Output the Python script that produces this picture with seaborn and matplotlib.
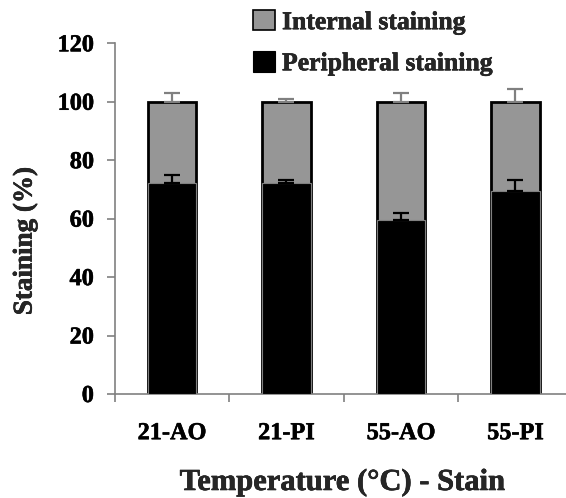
import matplotlib
matplotlib.use("Agg")
import matplotlib.pyplot as plt
import matplotlib.patheffects as pe
from matplotlib.patches import Patch
from matplotlib.font_manager import FontProperties
import numpy as np
import pandas as pd
import seaborn as sns

# Staining localisation per temperature / stain combination (%)
categories = ["21-AO", "21-PI", "55-AO", "55-PI"]
peripheral = [72.3, 72.3, 59.5, 69.5]
internal = [27.7, 27.7, 40.5, 30.5]
peripheral_err = [2.5, 1.0, 2.5, 3.8]
internal_err = [3.0, 1.0, 3.0, 4.3]
y_ticks = [0, 20, 40, 60, 80, 100, 120]

GREY = "#969696"
AXIS_GREY = "#808080"

df = pd.DataFrame({
    "group": categories,
    "peripheral": peripheral,
    "internal": internal,
})
df["total"] = df["peripheral"] + df["internal"]

sns.set_theme(style="white")
plt.rcParams["font.family"] = ["Liberation Serif", "DejaVu Serif"]
plt.rcParams["font.weight"] = "bold"

# slightly heavier strokes for the bold serif text
heavy = [pe.withStroke(linewidth=0.4, foreground="black")]

fig = plt.figure(figsize=(5.66, 4.98), dpi=100)
W, H = 566, 498
ax_left, ax_right, ax_top, ax_bottom = 114.6, 572.7, 43.3, 394.0
ax = fig.add_axes([ax_left / W, 1 - ax_bottom / H,
                   (ax_right - ax_left) / W, (ax_bottom - ax_top) / H])

# stacked bars: full height in grey, peripheral share in black on top of it
sns.barplot(data=df, x="group", y="total", color=GREY, width=0.423,
            edgecolor="black", linewidth=2.0, saturation=1, ax=ax, zorder=2)
sns.barplot(data=df, x="group", y="peripheral", color="black", width=0.423,
            edgecolor=AXIS_GREY, linewidth=0.8, saturation=1, ax=ax, zorder=3)

xpos = np.arange(len(categories))
zeros = np.zeros(len(categories))
ax.errorbar(xpos, df["total"], yerr=[zeros, internal_err], fmt="none",
            ecolor=AXIS_GREY, elinewidth=1.6, capsize=5.8, capthick=1.6, zorder=4)
ax.errorbar(xpos, df["peripheral"], yerr=[zeros, peripheral_err], fmt="none",
            ecolor="black", elinewidth=1.6, capsize=5.8, capthick=1.6, zorder=4)

ax.set_xlim(-0.5, len(categories) - 0.5)
ax.set_ylim(0, 120)
ax.set_yticks(y_ticks)
ax.set_yticklabels([str(t) for t in y_ticks], fontsize=17.5, fontweight="bold")
ax.set_xticks(xpos)
ax.set_xticklabels(categories, fontsize=17.5, fontweight="bold")
ax.set_xticks(np.arange(len(categories) + 1) - 0.5, minor=True)
ax.set_xlabel("")
ax.set_ylabel("")

for side in ["top", "right"]:
    ax.spines[side].set_visible(False)
for side in ["left", "bottom"]:
    ax.spines[side].set_color(AXIS_GREY)
    ax.spines[side].set_linewidth(1.2)

ax.tick_params(axis="y", direction="out", length=6, width=1.2, color=AXIS_GREY,
               pad=9, left=True, labelcolor="black")
ax.tick_params(axis="x", which="major", length=0, pad=21, labelcolor="black")
ax.tick_params(axis="x", which="minor", direction="out", length=6, width=1.2,
               color=AXIS_GREY, bottom=True)

for lbl in ax.get_xticklabels() + ax.get_yticklabels():
    lbl.set_path_effects(heavy)

fig.text(25 / W, 1 - 241 / H, "Staining (%)", rotation=90, ha="center",
         va="center", fontsize=19.5, fontweight="bold", path_effects=heavy)
fig.text(342.5 / W, 1 - 490 / H, "Temperature (°C) - Stain", ha="center",
         va="baseline", fontsize=22, fontweight="bold", path_effects=heavy)

legend_font = FontProperties(family="Liberation Serif", weight="bold", size=18.5)
handles = [Patch(facecolor=GREY, edgecolor="black", linewidth=1.2),
           Patch(facecolor="black", edgecolor="black", linewidth=0.8)]
leg = fig.legend(handles, ["Internal staining", "Peripheral staining"],
                 loc="upper left", bbox_to_anchor=(253 / W, 1 - 10 / H),
                 frameon=False, borderpad=0, borderaxespad=0, prop=legend_font,
                 handlelength=0.85, handleheight=0.85, handletextpad=0.28,
                 labelspacing=0.66)
for t in leg.get_texts():
    t.set_path_effects(heavy)

fig.savefig("out.png", dpi=100)
